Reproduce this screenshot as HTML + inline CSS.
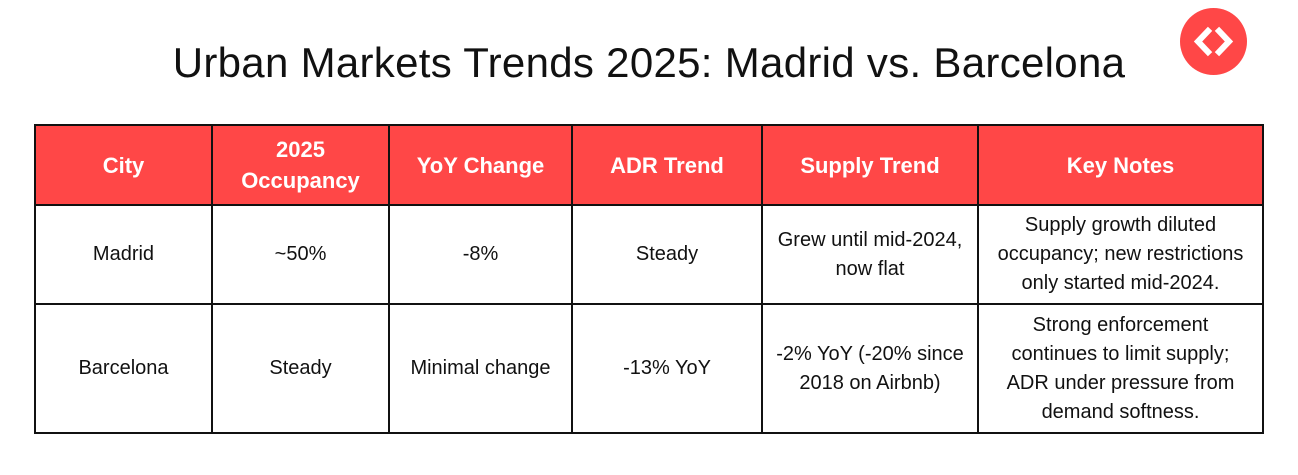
<!DOCTYPE html>
<html><head><style>
body{margin:0;width:1298px;height:475px;background:#fff;font-family:"Liberation Sans",sans-serif;position:relative;overflow:hidden}
h1{position:absolute;top:39px;left:0;width:1298px;text-align:center;margin:0;font-weight:normal;font-size:42px;color:#111;letter-spacing:0.3px}
.logo{position:absolute;left:1180px;top:8px;width:67px;height:67px;border-radius:50%;background:#ff4747}
table{position:absolute;left:34px;top:124px;border-collapse:collapse;table-layout:fixed}
td,th{border:2px solid #111;text-align:center;vertical-align:middle;padding:0 4px;font-size:20px;line-height:29px;color:#111}
th{background:#ff4747;color:#fff;font-size:22px;font-weight:bold;height:78px;line-height:31px}
</style></head><body>
<h1>Urban Markets Trends 2025: Madrid vs. Barcelona</h1>
<div class="logo"><svg width="67" height="67" viewBox="0 0 67 67"><path d="M28 23 L18 33.5 L28 44" stroke="#fff" stroke-width="6" fill="none" stroke-linecap="square"/><path d="M39 23 L49 33.5 L39 44" stroke="#fff" stroke-width="6" fill="none" stroke-linecap="square"/></svg></div>
<table>
<colgroup><col style="width:177px"><col style="width:177px"><col style="width:183px"><col style="width:190px"><col style="width:216px"><col style="width:285px"></colgroup>
<tr><th>City</th><th>2025<br>Occupancy</th><th>YoY Change</th><th>ADR Trend</th><th>Supply Trend</th><th>Key Notes</th></tr>
<tr style="height:99px"><td>Madrid</td><td>~50%</td><td>-8%</td><td>Steady</td><td>Grew until mid-2024,<br>now flat</td><td>Supply growth diluted<br>occupancy; new restrictions<br>only started mid-2024.</td></tr>
<tr style="height:129px"><td>Barcelona</td><td>Steady</td><td>Minimal change</td><td>-13% YoY</td><td>-2% YoY (-20% since<br>2018 on Airbnb)</td><td>Strong enforcement<br>continues to limit supply;<br>ADR under pressure from<br>demand softness.</td></tr>
</table>
</body></html>
